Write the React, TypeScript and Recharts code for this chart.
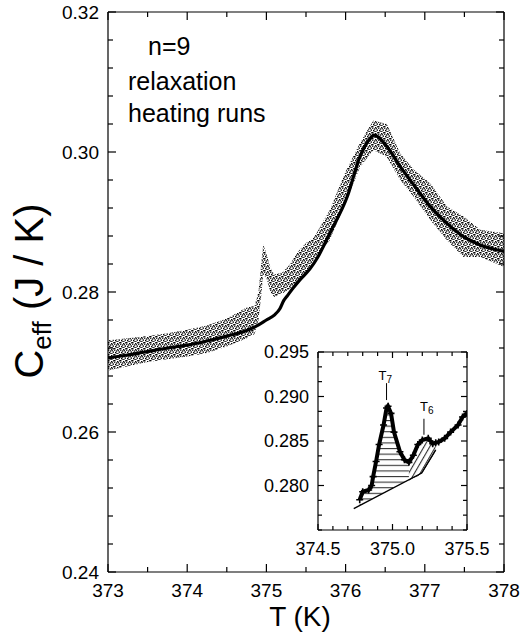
import { ComposedChart, Line, Area, XAxis, YAxis, ReferenceLine } from 'recharts';

const FONT = '"Liberation Sans", Arial, Helvetica, sans-serif';

// main panel: fitted curve
const fitT = [373.0, 373.25, 373.5, 373.75, 374.0, 374.25, 374.5, 374.75, 374.85, 375.0, 375.1, 375.17, 375.22, 375.26, 375.34, 375.42, 375.55, 375.65, 375.8, 376.02, 376.18, 376.3, 376.36, 376.52, 376.69, 376.86, 377.07, 377.28, 377.49, 377.7, 378.0];
const fitC = [0.2706, 0.271, 0.2715, 0.272, 0.2724, 0.273, 0.2737, 0.2745, 0.275, 0.276, 0.2767, 0.2776, 0.2788, 0.2794, 0.2806, 0.2817, 0.2833, 0.285, 0.2884, 0.2936, 0.2993, 0.3018, 0.3024, 0.3008, 0.2979, 0.2953, 0.2922, 0.2898, 0.2879, 0.2867, 0.2858];

// main panel: measured points, as lower / upper edge of the scatter cloud
const cloudT = [373.0, 373.25, 373.5, 373.75, 374.0, 374.25, 374.5, 374.75, 374.85, 374.9, 374.93, 374.96, 375.0, 375.05, 375.1, 375.2, 375.3, 375.4, 375.5, 375.6, 375.8, 376.0, 376.18, 376.35, 376.52, 376.69, 376.86, 377.07, 377.28, 377.49, 377.7, 378.0];
const cloudLow = [0.2688, 0.2694, 0.27, 0.2704, 0.2708, 0.2713, 0.2722, 0.2734, 0.274, 0.276, 0.279, 0.2825, 0.282, 0.28, 0.2793, 0.2798, 0.2805, 0.2815, 0.2828, 0.2845, 0.2874, 0.2928, 0.2978, 0.3003, 0.2993, 0.296, 0.2936, 0.2903, 0.2874, 0.285, 0.285, 0.2836];
const cloudHigh = [0.2731, 0.2734, 0.2737, 0.2741, 0.2746, 0.2752, 0.2762, 0.2778, 0.278, 0.28, 0.2835, 0.2868, 0.2855, 0.2835, 0.2825, 0.2828, 0.284, 0.2858, 0.287, 0.2878, 0.2917, 0.2972, 0.3013, 0.3045, 0.304, 0.2998, 0.2975, 0.2955, 0.2922, 0.2908, 0.2889, 0.2884];

const xTicks = [373, 373.5, 374, 374.5, 375, 375.5, 376, 376.5, 377, 377.5, 378];
const xMajor = [373, 374, 375, 376, 377, 378];
const yTicks = [0.24, 0.244, 0.248, 0.252, 0.256, 0.26, 0.264, 0.268, 0.272, 0.276, 0.28, 0.284, 0.288, 0.292, 0.296, 0.3, 0.304, 0.308, 0.312, 0.316, 0.32];
const yMajor = [0.24, 0.26, 0.28, 0.3, 0.32];

// inset: excess signal around the two small transitions
const insT = [374.78, 374.8, 374.84, 374.86, 374.87, 374.89, 374.91, 374.94, 374.96, 374.97, 374.99, 375.01, 375.05, 375.08, 375.11, 375.14, 375.17, 375.2, 375.24, 375.27, 375.29, 375.31, 375.35, 375.39, 375.44, 375.47, 375.5];
const insC = [0.2784, 0.2793, 0.2795, 0.28, 0.281, 0.2827, 0.2846, 0.2868, 0.2887, 0.2889, 0.2881, 0.286, 0.2838, 0.2829, 0.2826, 0.2834, 0.2846, 0.2851, 0.2853, 0.2847, 0.2848, 0.2849, 0.2853, 0.286, 0.2868, 0.2877, 0.2881];

const baseT = [374.74, 375.196, 375.29];
const baseC = [0.2774, 0.2814, 0.284];

const t7T = [374.78, 374.8, 374.84, 374.86, 374.87, 374.89, 374.91, 374.94, 374.96, 374.97, 374.99, 375.01, 375.05, 375.08, 375.11];
const t7Top = [0.2784, 0.2793, 0.2795, 0.28, 0.281, 0.2827, 0.2846, 0.2868, 0.2887, 0.2889, 0.2881, 0.286, 0.2838, 0.2829, 0.2826];
const t7Base = [0.2778, 0.2779, 0.2783, 0.2785, 0.2786, 0.2787, 0.2789, 0.2792, 0.2793, 0.2794, 0.2796, 0.2798, 0.2801, 0.2804, 0.2806];

const t6T = [375.11, 375.14, 375.17, 375.2, 375.24, 375.27, 375.29];
const t6Top = [0.2826, 0.2834, 0.2846, 0.2851, 0.2853, 0.2847, 0.2848];
const t6Base = [0.2806, 0.2809, 0.2811, 0.2815, 0.2826, 0.2834, 0.284];

const insXTicks = [374.5, 374.6, 374.7, 374.8, 374.9, 375.0, 375.1, 375.2, 375.3, 375.4, 375.5];
const insXMajor = [374.5, 375.0, 375.5];
const insYTicks = [0.275, 0.27667, 0.27833, 0.28, 0.28167, 0.28333, 0.285, 0.28667, 0.28833, 0.29, 0.29167, 0.29333, 0.295];
const insYMajor = [0.28, 0.285, 0.29, 0.295];

const fitData = fitT.map((T, i) => ({ T, C: fitC[i] }));
const cloudData = cloudT.map((T, i) => ({ T, lo: cloudLow[i], hi: cloudHigh[i] }));
const insData = insT.map((T, i) => ({ T, C: insC[i] }));
const baseData = baseT.map((T, i) => ({ T, C: baseC[i] }));
const t7Data = t7T.map((T, i) => ({ T, lo: t7Base[i], hi: t7Top[i] }));
const t6Data = t6T.map((T, i) => ({ T, lo: t6Base[i], hi: t6Top[i] }));

type Side = 'left' | 'right' | 'top' | 'bottom';

function FrameTick(props: any) {
  const { x = 0, y = 0, payload, side, majors, big, small, digits, fontSize, label } = props as {
    x: number; y: number; payload: { value: number }; side: Side; majors: number[];
    big: number; small: number; digits: number; fontSize: number; label: boolean;
  };
  const v = payload ? payload.value : 0;
  const isMajor = majors.some((m) => Math.abs(m - v) < 1e-6);
  const len = isMajor ? big : small;
  let x2 = x;
  let y2 = y;
  if (side === 'left') x2 = x + len;
  if (side === 'right') x2 = x - len;
  if (side === 'bottom') y2 = y - len;
  if (side === 'top') y2 = y + len;
  const text = v.toFixed(digits);
  return (
    <g>
      <line x1={x} y1={y} x2={x2} y2={y2} stroke="#000" strokeWidth={1.2} />
      {label && isMajor && side === 'left' && (
        <text x={x - 9} y={y} dy="0.36em" textAnchor="end" fontSize={fontSize} fontFamily={FONT} fill="#000">
          {text}
        </text>
      )}
      {label && isMajor && side === 'bottom' && (
        <text x={x} y={y + 25} textAnchor="middle" fontSize={fontSize} fontFamily={FONT} fill="#000">
          {text}
        </text>
      )}
    </g>
  );
}

function plus(p: any) {
  const { cx, cy, index } = p;
  if (cx == null || cy == null) return <g key={index} />;
  return <path key={index} d={`M${cx - 3.5},${cy}h7M${cx},${cy - 3.5}v7`} stroke="#000" strokeWidth={1.6} />;
}

function tLabel(sub: string, dx: number, dy: number) {
  return (p: any) => {
    const vb = p.viewBox || {};
    const x = (vb.x ?? 0) + dx;
    const y = (vb.y ?? 0) + dy;
    return (
      <text x={x} y={y} fontSize={13} fontFamily={FONT} fill="#000">
        T<tspan fontSize={10} dy={3}>{sub}</tspan>
      </text>
    );
  };
}

const axisLine = { stroke: '#000', strokeWidth: 1.2 };

export default function App() {
  return (
    <div style={{ position: 'absolute', left: 0, top: 0, width: 522, height: 636, background: '#fff' }}>
      <div style={{ position: 'absolute', left: 0, top: 0 }}>
        <ComposedChart width={522} height={636} margin={{ top: 11, right: 17, bottom: 63, left: 107 }}>
          <defs>
            <pattern id="stip" width="6" height="6" patternUnits="userSpaceOnUse">
              <rect x="0" y="0" width="1.5" height="1.5" fill="#000" />
              <rect x="3" y="1" width="1.4" height="1.4" fill="#000" />
              <rect x="4.6" y="3.4" width="1.4" height="1.4" fill="#000" />
              <rect x="1" y="3.8" width="1.4" height="1.4" fill="#000" />
              <rect x="3.2" y="5" width="1.3" height="1.3" fill="#000" />
              <rect x="5" y="0.2" width="1.2" height="1.2" fill="#000" />
              <rect x="2" y="2.4" width="1.3" height="1.3" fill="#000" />
              <rect x="0.2" y="1.9" width="1.1" height="1.1" fill="#000" />
              <rect x="4" y="2.2" width="1" height="1" fill="#000" />
              <rect x="1.8" y="5.2" width="1" height="1" fill="#000" />
            </pattern>
          </defs>
          <XAxis xAxisId="b" dataKey="T" type="number" orientation="bottom" domain={[373, 378]} ticks={xTicks} interval={0}
            height={1} tickSize={0} tickMargin={0} tickLine={false} axisLine={axisLine} allowDataOverflow
            tick={<FrameTick side="bottom" majors={xMajor} big={8} small={5} digits={0} fontSize={19} label />} />
          <XAxis xAxisId="t" dataKey="T" type="number" orientation="top" domain={[373, 378]} ticks={xTicks} interval={0}
            height={1} tickSize={0} tickMargin={0} tickLine={false} axisLine={axisLine} allowDataOverflow
            tick={<FrameTick side="top" majors={xMajor} big={8} small={5} digits={0} fontSize={19} label={false} />} />
          <YAxis yAxisId="l" type="number" orientation="left" domain={[0.24, 0.32]} ticks={yTicks} interval={0}
            width={1} tickSize={0} tickMargin={0} tickLine={false} axisLine={axisLine} allowDataOverflow
            tick={<FrameTick side="left" majors={yMajor} big={8} small={5} digits={2} fontSize={19} label />} />
          <YAxis yAxisId="r" type="number" orientation="right" domain={[0.24, 0.32]} ticks={yTicks} interval={0}
            width={1} tickSize={0} tickMargin={0} tickLine={false} axisLine={axisLine} allowDataOverflow
            tick={<FrameTick side="right" majors={yMajor} big={8} small={5} digits={2} fontSize={19} label={false} />} />
          <Area xAxisId="b" yAxisId="l" data={cloudData} dataKey={(d: any) => [d.lo, d.hi]} type="linear"
            stroke="none" fill="url(#stip)" fillOpacity={1} isAnimationActive={false} />
          <Line xAxisId="b" yAxisId="l" data={fitData} dataKey="C" type="monotone" stroke="#000" strokeWidth={3.2}
            dot={false} isAnimationActive={false} />
        </ComposedChart>
      </div>

      <div style={{ position: 'absolute', left: 0, top: 0 }}>
        <ComposedChart width={522} height={636} margin={{ top: 351, right: 54, bottom: 105, left: 317 }}>
          <defs>
            <pattern id="hatchH" width="8" height="5.6" patternUnits="userSpaceOnUse">
              <line x1="0" y1="0.6" x2="8" y2="0.6" stroke="#000" strokeWidth="0.9" />
            </pattern>
            <pattern id="hatchD" width="5" height="5" patternUnits="userSpaceOnUse" patternTransform="rotate(30)">
              <line x1="0.6" y1="0" x2="0.6" y2="5" stroke="#000" strokeWidth="0.9" />
            </pattern>
          </defs>
          <XAxis xAxisId="b" dataKey="T" type="number" orientation="bottom" domain={[374.5, 375.5]} ticks={insXTicks} interval={0}
            height={1} tickSize={0} tickMargin={0} tickLine={false} axisLine={axisLine} allowDataOverflow
            tick={<FrameTick side="bottom" majors={insXMajor} big={6} small={4} digits={1} fontSize={18} label />} />
          <XAxis xAxisId="t" dataKey="T" type="number" orientation="top" domain={[374.5, 375.5]} ticks={insXTicks} interval={0}
            height={1} tickSize={0} tickMargin={0} tickLine={false} axisLine={axisLine} allowDataOverflow
            tick={<FrameTick side="top" majors={insXMajor} big={6} small={4} digits={1} fontSize={18} label={false} />} />
          <YAxis yAxisId="l" type="number" orientation="left" domain={[0.275, 0.295]} ticks={insYTicks} interval={0}
            width={1} tickSize={0} tickMargin={0} tickLine={false} axisLine={axisLine} allowDataOverflow
            tick={<FrameTick side="left" majors={insYMajor} big={6} small={4} digits={3} fontSize={18} label />} />
          <YAxis yAxisId="r" type="number" orientation="right" domain={[0.275, 0.295]} ticks={insYTicks} interval={0}
            width={1} tickSize={0} tickMargin={0} tickLine={false} axisLine={axisLine} allowDataOverflow
            tick={<FrameTick side="right" majors={insYMajor} big={6} small={4} digits={3} fontSize={18} label={false} />} />
          <Area xAxisId="b" yAxisId="l" data={t7Data} dataKey={(d: any) => [d.lo, d.hi]} type="linear"
            stroke="none" fill="url(#hatchH)" fillOpacity={1} isAnimationActive={false} />
          <Area xAxisId="b" yAxisId="l" data={t6Data} dataKey={(d: any) => [d.lo, d.hi]} type="linear"
            stroke="#000" strokeWidth={0.8} fill="url(#hatchD)" fillOpacity={1} isAnimationActive={false} />
          <Line xAxisId="b" yAxisId="l" data={baseData} dataKey="C" type="linear" stroke="#000" strokeWidth={1.4}
            dot={false} isAnimationActive={false} />
          <Line xAxisId="b" yAxisId="l" data={insData} dataKey="C" type="linear" stroke="#000" strokeWidth={4}
            dot={plus} isAnimationActive={false} />
          <ReferenceLine xAxisId="b" yAxisId="l" segment={[{ x: 374.96, y: 0.2896 }, { x: 374.96, y: 0.2915 }]}
            stroke="#000" strokeWidth={1} label={tLabel('7', -8, -3)} />
          <ReferenceLine xAxisId="b" yAxisId="l" segment={[{ x: 375.211, y: 0.2857 }, { x: 375.211, y: 0.2875 }]}
            stroke="#000" strokeWidth={1} label={tLabel('6', -4, -8)} />
        </ComposedChart>
      </div>

      <svg width={522} height={636} style={{ position: 'absolute', left: 0, top: 0, pointerEvents: 'none' }}>
        <g fontFamily={FONT} fill="#000">
          <text x={148} y={55} fontSize={25}>n=9</text>
          <text x={128} y={90} fontSize={25}>relaxation</text>
          <text x={128} y={122} fontSize={25}>heating runs</text>
          <text x={300} y={626} fontSize={28} textAnchor="middle">T (K)</text>
          <text transform="translate(43,291) rotate(-90)" fontSize={40} textAnchor="middle">
            C<tspan fontSize={26} dy={8}>eff</tspan>
            <tspan dy={-8}> (J / K)</tspan>
          </text>
        </g>
      </svg>
    </div>
  );
}
